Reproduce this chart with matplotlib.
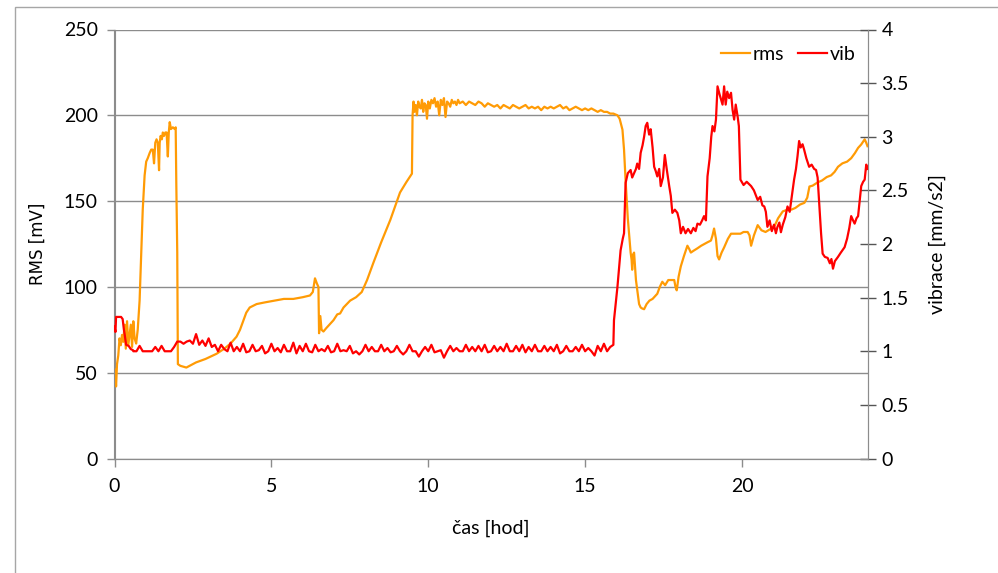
import numpy as np
import matplotlib
matplotlib.use("Agg")
import matplotlib.pyplot as plt
from matplotlib.patches import Rectangle

# ---------------- data ----------------
# RMS [mV], part 1 (0 .. 11 h)
rms_x_a = [0.00, 0.03, 0.05, 0.08, 0.12, 0.16, 0.20, 0.24, 0.28, 0.32, 0.36, 0.40, 0.44, 0.48,
           0.52, 0.56, 0.60, 0.64, 0.69, 0.74, 0.80, 0.85, 0.90, 0.96, 1.01, 1.06, 1.12, 1.17,
           1.22, 1.26, 1.30, 1.34, 1.38, 1.42, 1.44, 1.47, 1.51, 1.54, 1.58, 1.62, 1.66, 1.70,
           1.73, 1.76, 1.80, 1.86, 1.92, 1.95, 1.97, 2.00, 2.02, 2.10, 2.29, 2.60, 2.90, 3.25,
           3.50, 3.70, 3.89, 4.00, 4.10, 4.20, 4.31, 4.53, 4.80, 5.10, 5.40, 5.70, 6.00, 6.23,
           6.32, 6.39, 6.45, 6.50, 6.52, 6.56, 6.60, 6.66, 6.75, 6.85, 6.98, 7.10, 7.19, 7.30,
           7.51, 7.70, 7.88, 8.05, 8.25, 8.50, 8.79, 9.10, 9.30, 9.48, 9.50, 9.53, 9.56, 9.60,
           9.64, 9.68, 9.72, 9.76, 9.80, 9.84, 9.88, 9.92, 9.96, 10.00, 10.05, 10.10, 10.15,
           10.20, 10.25, 10.30, 10.35, 10.40, 10.45, 10.50, 10.55, 10.60, 10.65, 10.70, 10.75,
           10.80, 10.85, 10.90, 10.95]
rms_y_a = [52, 48, 42, 55, 60, 70, 66, 72, 68, 78, 64, 80, 66, 72,
           78, 65, 80, 70, 67, 75, 92, 118, 145, 165, 173, 175, 178, 180,
           180, 172, 184, 186, 184, 168, 184, 188, 186, 190, 188, 190, 190, 176,
           190, 196, 192, 193, 192, 193, 160, 120, 55, 54, 53, 56, 58, 61,
           64, 67, 71, 75, 80, 85, 88, 90, 91, 92, 93, 93, 94, 95,
           97, 105, 102, 100, 73, 83, 75, 74, 76, 78, 80.6, 84, 84.5, 88,
           92, 94, 97, 104, 114, 126, 139, 155, 161, 166, 200, 208, 202, 206,
           200, 208, 205, 204, 209, 202, 207, 206, 198, 208, 204, 209, 207,
           210, 205, 208, 200, 209, 206, 210, 199, 208, 207, 205, 209,
           207, 208, 206, 209]

# RMS plateau 11.0 .. 15.9 h (step 0.1 h)
rms_plateau = [207, 208, 206, 208, 207, 206, 208, 207, 205, 207,
               206, 205, 206, 204, 206, 205, 204, 206, 205, 204,
               205, 206, 204, 205, 204, 205, 203, 205, 204, 205,
               204, 205, 206, 204, 205, 203, 204, 205, 204, 203,
               204, 203, 204, 203, 202, 203, 202, 202, 201, 201]

# RMS part 3 (16 .. 24 h)
rms_x_c = [16.03, 16.10, 16.19, 16.24, 16.29, 16.36, 16.45, 16.48, 16.50, 16.53, 16.56, 16.62,
           16.72, 16.77, 16.82, 16.88, 16.96, 17.05, 17.15, 17.30, 17.38, 17.46, 17.55, 17.65,
           17.75, 17.84, 17.88, 17.92, 17.98, 18.05, 18.15, 18.26, 18.32, 18.37, 18.45, 18.58,
           18.70, 18.80, 18.90, 19.01, 19.06, 19.11, 19.17, 19.22, 19.27, 19.35, 19.43, 19.55,
           19.65, 19.80, 19.95, 20.05, 20.18, 20.24, 20.29, 20.38, 20.50, 20.62, 20.75, 20.93,
           21.05, 21.15, 21.30, 21.45, 21.57, 21.70, 21.85, 21.99, 22.08, 22.15, 22.25, 22.42,
           22.55, 22.70, 22.84, 22.95, 23.06, 23.20, 23.35, 23.48, 23.60, 23.70, 23.80, 23.91,
           23.96, 24.00]
rms_y_c = [200, 198, 191.6, 180, 162, 140, 120, 116, 110, 119, 120, 104,
           90, 88, 87.4, 87, 90, 92, 93, 96, 100, 103, 101, 104,
           104, 104, 100, 98, 106, 112, 118, 124, 122, 120, 121, 122.5,
           124, 125, 126, 127, 130, 134, 128, 118, 116, 120, 123, 128,
           131, 131, 131, 132, 132, 130, 124, 130, 136, 133, 132, 134,
           136, 140, 144, 145, 145, 146, 148, 149, 152, 158.5, 159, 161,
           162, 164, 165, 167, 170, 172, 173, 175, 178, 181, 183, 186,
           184, 182]

# Vibrace [mm/s2]
vib_x_start = [0.00, 0.03, 0.05, 0.10, 0.15, 0.21, 0.26, 0.30, 0.32, 0.37, 0.45, 0.52, 0.59]
vib_y_start = [1.23, 1.18, 1.32, 1.32, 1.32, 1.32, 1.30, 1.20, 1.165, 1.06, 1.05, 1.02, 1.01]

# quasi-flat noisy segment 0.6 .. 15.9 h (step 0.1 h)
vib_flat = [1.00, 1.00, 1.05, 1.00, 1.00, 1.00, 1.00, 1.04, 1.00, 1.05,
            1.00, 1.00, 1.00, 1.04, 1.09, 1.09, 1.07, 1.09, 1.10, 1.07,
            1.16, 1.06, 1.10, 1.05, 1.12, 1.04, 1.06, 1.00, 1.06, 1.02,
            1.00, 1.08, 1.00, 1.04, 1.00, 1.07, 0.99, 1.00, 1.06, 1.00,
            1.01, 1.05, 0.98, 1.00, 1.07, 1.00, 1.03, 0.99, 1.06, 1.00,
            1.00, 1.08, 0.98, 1.05, 1.00, 1.07, 1.00, 0.99, 1.06, 1.00,
            1.02, 1.00, 1.05, 0.99, 1.00, 1.07, 1.00, 1.01, 1.00, 1.05,
            0.98, 1.00, 0.97, 1.00, 1.06, 1.00, 1.04, 1.00, 1.00, 1.06,
            1.00, 1.03, 0.99, 1.00, 1.05, 1.00, 0.97, 1.00, 1.06, 1.00,
            1.00, 0.95, 1.00, 1.04, 1.00, 1.06, 0.99, 1.00, 1.01, 0.94,
            1.00, 1.05, 1.00, 1.03, 1.00, 1.00, 1.06, 1.00, 1.04, 1.00,
            1.05, 1.00, 1.06, 0.99, 1.00, 1.05, 1.00, 1.04, 1.00, 1.07,
            1.00, 1.00, 1.05, 1.00, 1.06, 0.99, 1.04, 1.00, 1.06, 1.00,
            1.00, 1.05, 1.00, 1.04, 1.00, 1.06, 0.98, 1.00, 1.05, 1.00,
            1.00, 1.04, 1.00, 1.06, 1.00, 1.03, 1.00, 0.96, 1.05, 1.00,
            1.07, 1.00, 1.04, 1.06]

vib_x_end = [15.92, 16.03, 16.13, 16.20, 16.24, 16.29, 16.36, 16.45, 16.50, 16.56, 16.62,
             16.66, 16.72, 16.77, 16.83, 16.88, 16.93, 16.98, 17.04, 17.09, 17.15, 17.20,
             17.25, 17.30, 17.36, 17.41, 17.48, 17.54, 17.60, 17.68, 17.73, 17.78, 17.86,
             17.94, 18.00, 18.05, 18.12, 18.20, 18.28, 18.37, 18.45, 18.52, 18.58, 18.66,
             18.73, 18.79, 18.85, 18.90, 18.97, 19.02, 19.06, 19.12, 19.17, 19.22, 19.28,
             19.33, 19.38, 19.43, 19.48, 19.53, 19.59, 19.65, 19.70, 19.75, 19.80, 19.86,
             19.90, 19.95, 20.05, 20.15, 20.29, 20.38, 20.50, 20.58, 20.65, 20.71, 20.76,
             20.81, 20.88, 20.95, 21.02, 21.08, 21.13, 21.19, 21.24, 21.30, 21.38, 21.45,
             21.52, 21.59, 21.66, 21.72, 21.77, 21.82, 21.87, 21.93, 21.98, 22.05, 22.14,
             22.22, 22.30, 22.36, 22.41, 22.46, 22.52, 22.57, 22.64, 22.73, 22.80, 22.85,
             22.90, 22.96, 23.06, 23.15, 23.27, 23.35, 23.42, 23.48, 23.54, 23.59, 23.65,
             23.70, 23.75, 23.80, 23.86, 23.91, 23.96, 24.00]
vib_y_end = [1.29, 1.60, 1.94, 2.05, 2.10, 2.57, 2.66, 2.69, 2.62, 2.66, 2.70,
             2.75, 2.70, 2.85, 2.92, 3.00, 3.10, 3.13, 3.02, 3.07, 2.90, 2.72,
             2.68, 2.63, 2.70, 2.54, 2.62, 2.83, 2.70, 2.54, 2.45, 2.29, 2.32,
             2.29, 2.22, 2.10, 2.16, 2.10, 2.14, 2.10, 2.15, 2.12, 2.19, 2.18,
             2.22, 2.26, 2.22, 2.63, 2.80, 3.00, 3.10, 3.05, 3.16, 3.47, 3.40,
             3.35, 3.30, 3.47, 3.30, 3.42, 3.36, 3.41, 3.25, 3.16, 3.30, 3.19,
             3.10, 2.60, 2.55, 2.58, 2.54, 2.50, 2.41, 2.44, 2.36, 2.35, 2.30,
             2.16, 2.22, 2.12, 2.18, 2.10, 2.16, 2.20, 2.11, 2.18, 2.25, 2.35,
             2.30, 2.45, 2.60, 2.70, 2.82, 2.96, 2.90, 2.93, 2.88, 2.80, 2.72,
             2.74, 2.70, 2.69, 2.62, 2.38, 2.10, 1.91, 1.88, 1.87, 1.82, 1.86,
             1.77, 1.84, 1.88, 1.92, 1.97, 2.05, 2.15, 2.26, 2.22, 2.19, 2.24,
             2.26, 2.40, 2.54, 2.58, 2.60, 2.74, 2.70]

x_ticks = [0, 5, 10, 15, 20]
rms_ticks = [0, 50, 100, 150, 200, 250]
vib_ticks = [0, 0.5, 1, 1.5, 2, 2.5, 3, 3.5, 4]
vib_tick_labels = ["0", "0.5", "1", "1.5", "2", "2.5", "3", "3.5", "4"]

# ---------------- plot ----------------
plt.rcParams["font.family"] = ["Lato", "DejaVu Sans"]
W, H = 998, 573
fig = plt.figure(figsize=(W / 100, H / 100), dpi=100)

# outer chart frame
fig.patches.append(Rectangle((15 / W, -0.05), 1.1, 1 - 7 / H + 0.05, transform=fig.transFigure,
                             fill=False, edgecolor="#a6a6a6", linewidth=1.0, zorder=0))

left, right, top, bottom = 114.5, 867.5, 29.5, 458.5
ax = fig.add_axes([left / W, 1 - bottom / H, (right - left) / W, (bottom - top) / H])
ax2 = ax.twinx()

rms_plateau_x = np.round(np.linspace(11.0, 15.9, len(rms_plateau)), 3)
rms_x = list(rms_x_a) + list(rms_plateau_x) + list(rms_x_c)
rms_y = list(rms_y_a) + list(rms_plateau) + list(rms_y_c)

vib_flat_x = np.round(np.linspace(0.6, 15.9, len(vib_flat)), 3)
vib_x = list(vib_x_start) + list(vib_flat_x) + list(vib_x_end)
vib_y = list(vib_y_start) + list(vib_flat) + list(vib_y_end)

orange = "#ff9b05"
red = "#ff0000"
l1, = ax.plot(rms_x, rms_y, color=orange, lw=1.6, label="rms", zorder=3)
l2, = ax2.plot(vib_x, vib_y, color=red, lw=1.6, label="vib", zorder=3)

ax.set_xlim(0, 24)
ax.set_ylim(0, 250)
ax2.set_ylim(0, 4)
ax.set_xticks(x_ticks)
ax.set_yticks(rms_ticks)
ax2.set_yticks(vib_ticks)
ax2.set_yticklabels(vib_tick_labels)

ax.grid(axis="y", color="#8c8c8c", lw=1.0)
ax.set_axisbelow(True)
for a in (ax, ax2):
    for s in a.spines.values():
        s.set_color("#8c8c8c")
    a.spines["top"].set_visible(False)
ax.tick_params(axis="both", colors="#8c8c8c", labelcolor="black", labelsize=14, length=6, width=1)
ax.tick_params(axis="y", pad=6)
ax.tick_params(axis="x", pad=8)
ax2.tick_params(axis="y", colors="#555555", labelcolor="black", labelsize=14, direction="inout",
                length=12, width=1, pad=4)

ax.set_xlabel("čas [hod]", fontsize=14, labelpad=18)
ax.set_ylabel("RMS [mV]", fontsize=12, family=["DejaVu Sans"], labelpad=12)
ax2.set_ylabel("vibrace [mm/s2]", fontsize=14, labelpad=14)

ax2.set_zorder(ax.get_zorder() + 1)
ax.patch.set_visible(True)
ax2.patch.set_visible(False)

leg = ax2.legend(handles=[l1, l2], loc="upper right", ncol=2, frameon=False, fontsize=14,
                 handlelength=1.5, handletextpad=0.15, columnspacing=0.7,
                 bbox_to_anchor=(0.995, 0.98), borderaxespad=0.0)

fig.savefig("out.png", dpi=100)
